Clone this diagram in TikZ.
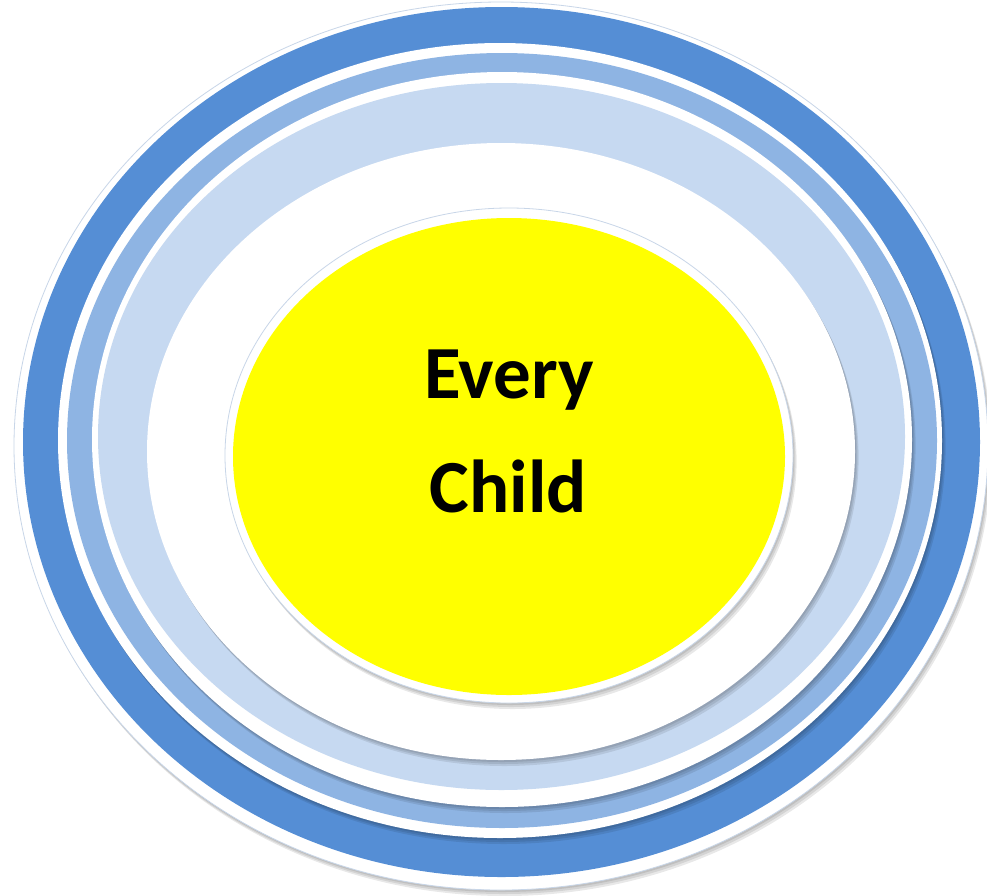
\documentclass[tikz,border=0pt]{standalone}
\usepackage{fontspec}
\setmainfont{Carlito}
\definecolor{darkring}{HTML}{558ED5}
\definecolor{midring}{HTML}{8EB4E3}
\definecolor{lightring}{HTML}{C6D9F1}
\definecolor{yellowcore}{HTML}{FFFF00}
\definecolor{rimline}{HTML}{C8D6E8}
\tikzset{
  softshadow/.style={fill=black, fill opacity=0.09, draw=none},
  labeltext/.style={font=\fontsize{75}{90}\selectfont\bfseries, text=black, inner sep=0pt, anchor=base},
}
\newcommand{\ringshadow}[4]{%
  \foreach \d in {1,2,3}{%
    \fill[softshadow] ($(#1,#2)+(\d*1.2,\d*2)$) ellipse [x radius=#3pt, y radius=#4pt];
  }%
}
\usetikzlibrary{calc}
\begin{document}
\begin{tikzpicture}[x=1pt,y=-1pt]
\useasboundingbox (0,0) rectangle (987,895);
\fill[white] (0,0) rectangle (987,895);
% outermost rim
\ringshadow{501}{446}{487}{444}
\fill[white, draw=rimline, line width=0.8pt] (501,446) ellipse [x radius=487pt, y radius=444pt];
\fill[darkring] (501.5,442) ellipse [x radius=478.5pt, y radius=435pt];
% second ring
\ringshadow{500}{440.5}{442}{397.5}
\fill[white] (500,440.5) ellipse [x radius=442pt, y radius=397.5pt];
\fill[midring] (502,440.5) ellipse [x radius=435pt, y radius=387.5pt];
% third ring
\ringshadow{502}{439.5}{410}{367.5}
\fill[white] (502,439.5) ellipse [x radius=410pt, y radius=367.5pt];
\fill[lightring] (501.5,436.5) ellipse [x radius=403.5pt, y radius=353.5pt];
% white zone
\ringshadow{501}{451.5}{354}{308.5}
\fill[white] (501,451.5) ellipse [x radius=354pt, y radius=308.5pt];
% yellow core
\ringshadow{509}{455.5}{284}{247.5}
\fill[white, draw=rimline, line width=0.8pt] (509,455.5) ellipse [x radius=284pt, y radius=247.5pt];
\fill[yellowcore] (509,456.5) ellipse [x radius=276pt, y radius=238.5pt];
% text
\node[labeltext] (every) at (509,398) {Every};
\node[labeltext] (child) at (508.5,512) {Child};
\end{tikzpicture}
\end{document}
